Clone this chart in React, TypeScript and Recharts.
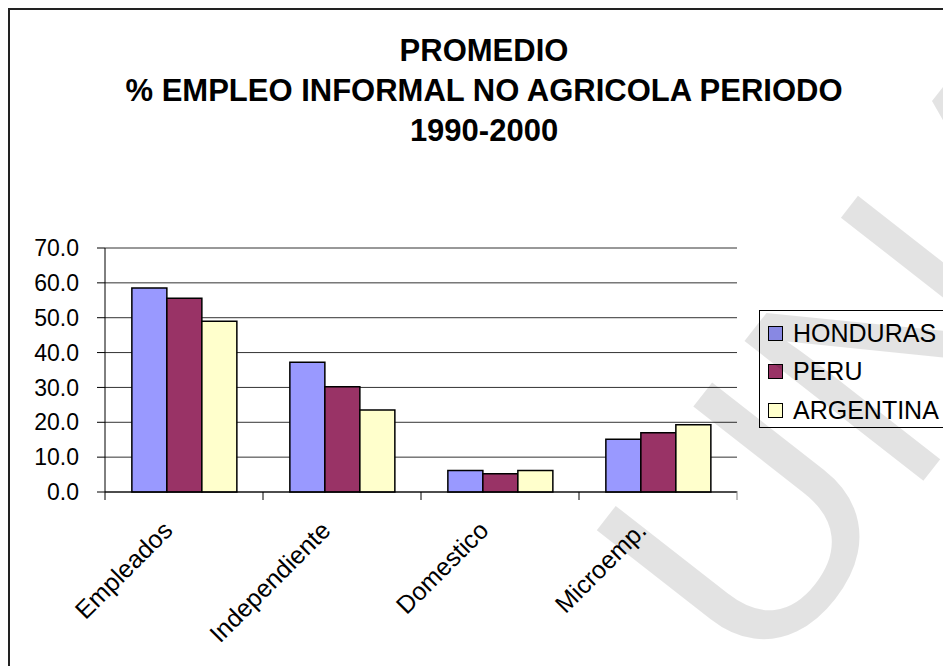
import React from "react";
import {
  BarChart,
  Bar,
  XAxis,
  YAxis,
  CartesianGrid,
  Legend,
} from "recharts";

const CATEGORIES = ["Empleados", "Independiente", "Domestico", "Microemp."];
const HONDURAS = [58.5, 37.2, 6.2, 15.1];
const PERU = [55.6, 30.2, 5.2, 17.0];
const ARGENTINA = [49.0, 23.5, 6.2, 19.3];
const Y_TICKS = [0, 10, 20, 30, 40, 50, 60, 70];

const SERIES = [
  { key: "honduras", name: "HONDURAS", color: "#9999FF", values: HONDURAS },
  { key: "peru", name: "PERU", color: "#993366", values: PERU },
  { key: "argentina", name: "ARGENTINA", color: "#FFFFCC", values: ARGENTINA },
];

const data = CATEGORIES.map((cat, i) => {
  const row: Record<string, string | number> = { cat };
  SERIES.forEach((s) => {
    row[s.key] = s.values[i];
  });
  return row;
});

const W = 943;
const H = 666;
const FONT = "'Liberation Sans', Arial, sans-serif";
const LEFT = 105;
const RIGHT = 206;
const BAND = (W - LEFT - RIGHT) / CATEGORIES.length;

// category label, rotated, plus the tick marks at band edges
function CategoryTick(props: any) {
  const { x, y, payload, index } = props;
  const left = x - BAND / 2;
  const right = x + BAND / 2;
  const tx = x - 10;
  const ty = y + 40;
  return (
    <g>
      <line x1={left} y1={y} x2={left} y2={y + 8} stroke="#000" />
      {index === CATEGORIES.length - 1 && (
        <line x1={right} y1={y - 1} x2={right} y2={y + 8} stroke="#808080" />
      )}
      <text
        x={tx}
        y={ty}
        textAnchor="end"
        transform={`rotate(-45, ${tx}, ${ty})`}
        fontSize={25}
        fontFamily={FONT}
        fill="#000"
      >
        {payload.value}
      </text>
    </g>
  );
}

function LegendBox() {
  return (
    <div
      style={{
        border: "1px solid #000",
        background: "#fff",
        width: 240,
        height: 118,
        boxSizing: "border-box",
        paddingTop: 3,
        fontFamily: FONT,
        fontSize: 25,
      }}
    >
      {SERIES.map((s) => (
        <div
          key={s.key}
          style={{ height: 38.5, display: "flex", alignItems: "center" }}
        >
          <span
            style={{
              display: "inline-block",
              width: 13,
              height: 13,
              marginLeft: 8,
              marginRight: 10,
              background: s.color,
              border: "1px solid #000",
              flexShrink: 0,
            }}
          />
          <span style={{ color: "#000", whiteSpace: "nowrap" }}>{s.name}</span>
        </div>
      ))}
    </div>
  );
}

export default function App() {
  return (
    <div
      style={{
        position: "absolute",
        left: 0,
        top: 0,
        width: W,
        height: H,
        overflow: "hidden",
        background: "#fff",
      }}
    >
      <div
        style={{
          position: "absolute",
          left: 8,
          top: 8,
          width: 1200,
          height: 900,
          border: "2px solid #222",
        }}
      />
      <div
        style={{
          position: "absolute",
          left: 0,
          top: 31,
          width: 968,
          textAlign: "center",
          fontFamily: FONT,
          fontWeight: "bold",
          fontSize: 31,
          lineHeight: "40px",
          color: "#000",
        }}
      >
        PROMEDIO
        <br />% EMPLEO INFORMAL NO AGRICOLA PERIODO
        <br />
        1990-2000
      </div>
      <div style={{ position: "absolute", left: 0, top: 0 }}>
        <BarChart
          width={W}
          height={H}
          data={data}
          margin={{ top: 248, right: RIGHT, bottom: 0, left: 0 }}
          barCategoryGap="17%"
          barGap={0}
        >
          <CartesianGrid vertical={false} stroke="#333" />
          <XAxis
            dataKey="cat"
            height={174}
            interval={0}
            tickLine={false}
            tickSize={0}
            tickMargin={0}
            axisLine={{ stroke: "#000" }}
            tick={<CategoryTick />}
          />
          <YAxis
            width={LEFT}
            domain={[0, 70]}
            ticks={Y_TICKS}
            interval={0}
            tickFormatter={(v: number) => v.toFixed(1)}
            tickSize={8}
            tickMargin={18}
            tickLine={{ stroke: "#000" }}
            axisLine={{ stroke: "#000" }}
            tick={{ fontSize: 23, fontFamily: FONT, fill: "#000" }}
          />
          <YAxis
            yAxisId="right"
            orientation="right"
            width={0}
            tick={false}
            tickLine={false}
            axisLine={{ stroke: "#808080" }}
          />
          <Legend
            layout="vertical"
            align="center"
            verticalAlign="middle"
            wrapperStyle={{ left: 759, top: 310, width: 240 }}
            content={() => <LegendBox />}
          />
          {SERIES.map((s) => (
            <Bar
              key={s.key}
              dataKey={s.key}
              name={s.name}
              fill={s.color}
              stroke="#000"
              strokeWidth={1.5}
              isAnimationActive={false}
            />
          ))}
        </BarChart>
      </div>
      <svg
        width={W}
        height={H}
        style={{ position: "absolute", left: 0, top: 0, pointerEvents: "none" }}
      >
        <text
          x={760}
          y={690}
          transform="rotate(-52, 760, 690)"
          fontSize={330}
          fontFamily={FONT}
          fill="#000"
          fillOpacity={0.11}
        >
          UNA
        </text>
      </svg>
    </div>
  );
}
